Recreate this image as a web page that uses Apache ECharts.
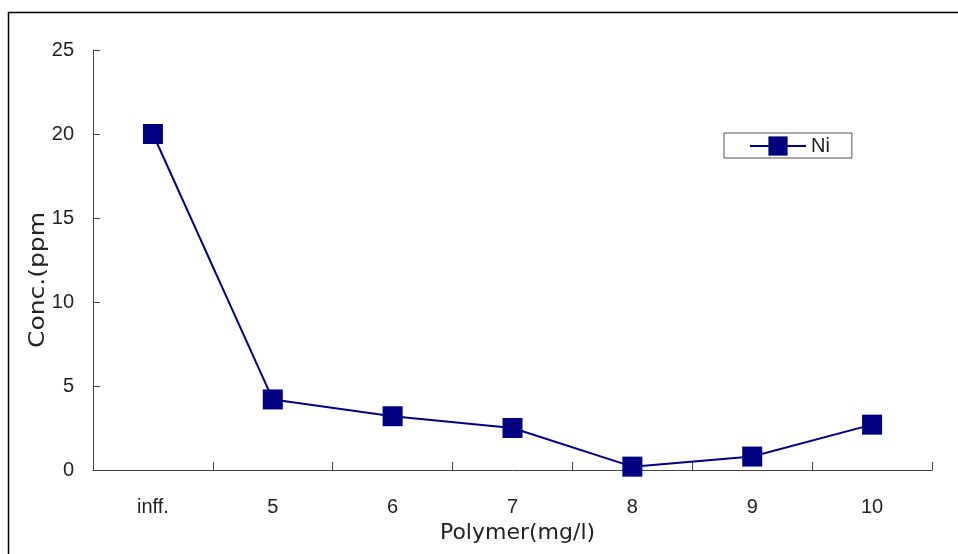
<!DOCTYPE html>
<html>
<head>
<meta charset="utf-8">
<script src="https://cdn.jsdelivr.net/npm/echarts@6/dist/echarts.min.js"></script>
<style>html,body{margin:0;padding:0;background:#fff}#c{width:958px;height:554px}</style>
</head>
<body>
<div id="c"></div>
<script>
const categories = ['inff.', '5', '6', '7', '8', '9', '10'];
const niValues = [20.0, 4.2, 3.2, 2.5, 0.2, 0.8, 2.7];
const yTicks = [0, 5, 10, 15, 20, 25];

const chart = echarts.init(document.getElementById('c'), null, {renderer: 'canvas'});
const font = 'Liberation Sans, Arial, sans-serif';
const dfont = 'DejaVu Sans, sans-serif';
chart.setOption({
  animation: false,
  backgroundColor: '#fff',
  graphic: [
    {type: 'rect', shape: {x: 8.5, y: 12.5, width: 1000, height: 1000}, style: {fill: 'none', stroke: '#000', lineWidth: 1.5}, z: 0},
    {type: 'text', x: 39, y: 280, rotation: Math.PI / 2, scaleX: 1.19,
     style: {text: 'Conc.(ppm', font: '21px ' + dfont, fill: '#222', align: 'center', verticalAlign: 'middle'}}
  ],
  grid: {left: 93, right: 26, top: 50, bottom: 84, containLabel: false},
  legend: {
    left: 724, top: 133,
    padding: [3, 22, 2, 25],
    borderColor: '#555', borderWidth: 1, borderRadius: 0,
    itemWidth: 56, itemHeight: 24, itemGap: 5,
    textStyle: {fontSize: 20, color: '#222', fontFamily: font},
    data: ['Ni']
  },
  xAxis: {
    type: 'category',
    data: categories,
    boundaryGap: true,
    name: 'Polymer(mg/l)',
    nameLocation: 'middle',
    nameGap: 45,
    nameTextStyle: {fontSize: 22, color: '#222', fontFamily: dfont, verticalAlign: 'top', padding: [0, 0, 0, 10]},
    axisLine: {lineStyle: {color: '#444', width: 1}},
    axisTick: {show: true, inside: true, length: 8, lineStyle: {color: '#444', width: 1}},
    axisLabel: {fontSize: 20, color: '#222', fontFamily: font, margin: 27},
    splitLine: {show: false}
  },
  yAxis: {
    type: 'value',
    min: 0, max: 25, interval: 5,
    axisLine: {show: true, lineStyle: {color: '#444', width: 1}},
    axisTick: {show: true, inside: true, length: 7, lineStyle: {color: '#444'}},
    axisLabel: {fontSize: 20, color: '#222', fontFamily: font, margin: 19,
      formatter: v => yTicks.includes(v) ? String(v) : ''},
    splitLine: {show: false}
  },
  series: [{
    name: 'Ni',
    type: 'line',
    data: niValues,
    symbol: 'rect',
    symbolSize: 20,
    itemStyle: {color: '#000080'},
    lineStyle: {color: '#000080', width: 2}
  }]
});
</script>
</body>
</html>
